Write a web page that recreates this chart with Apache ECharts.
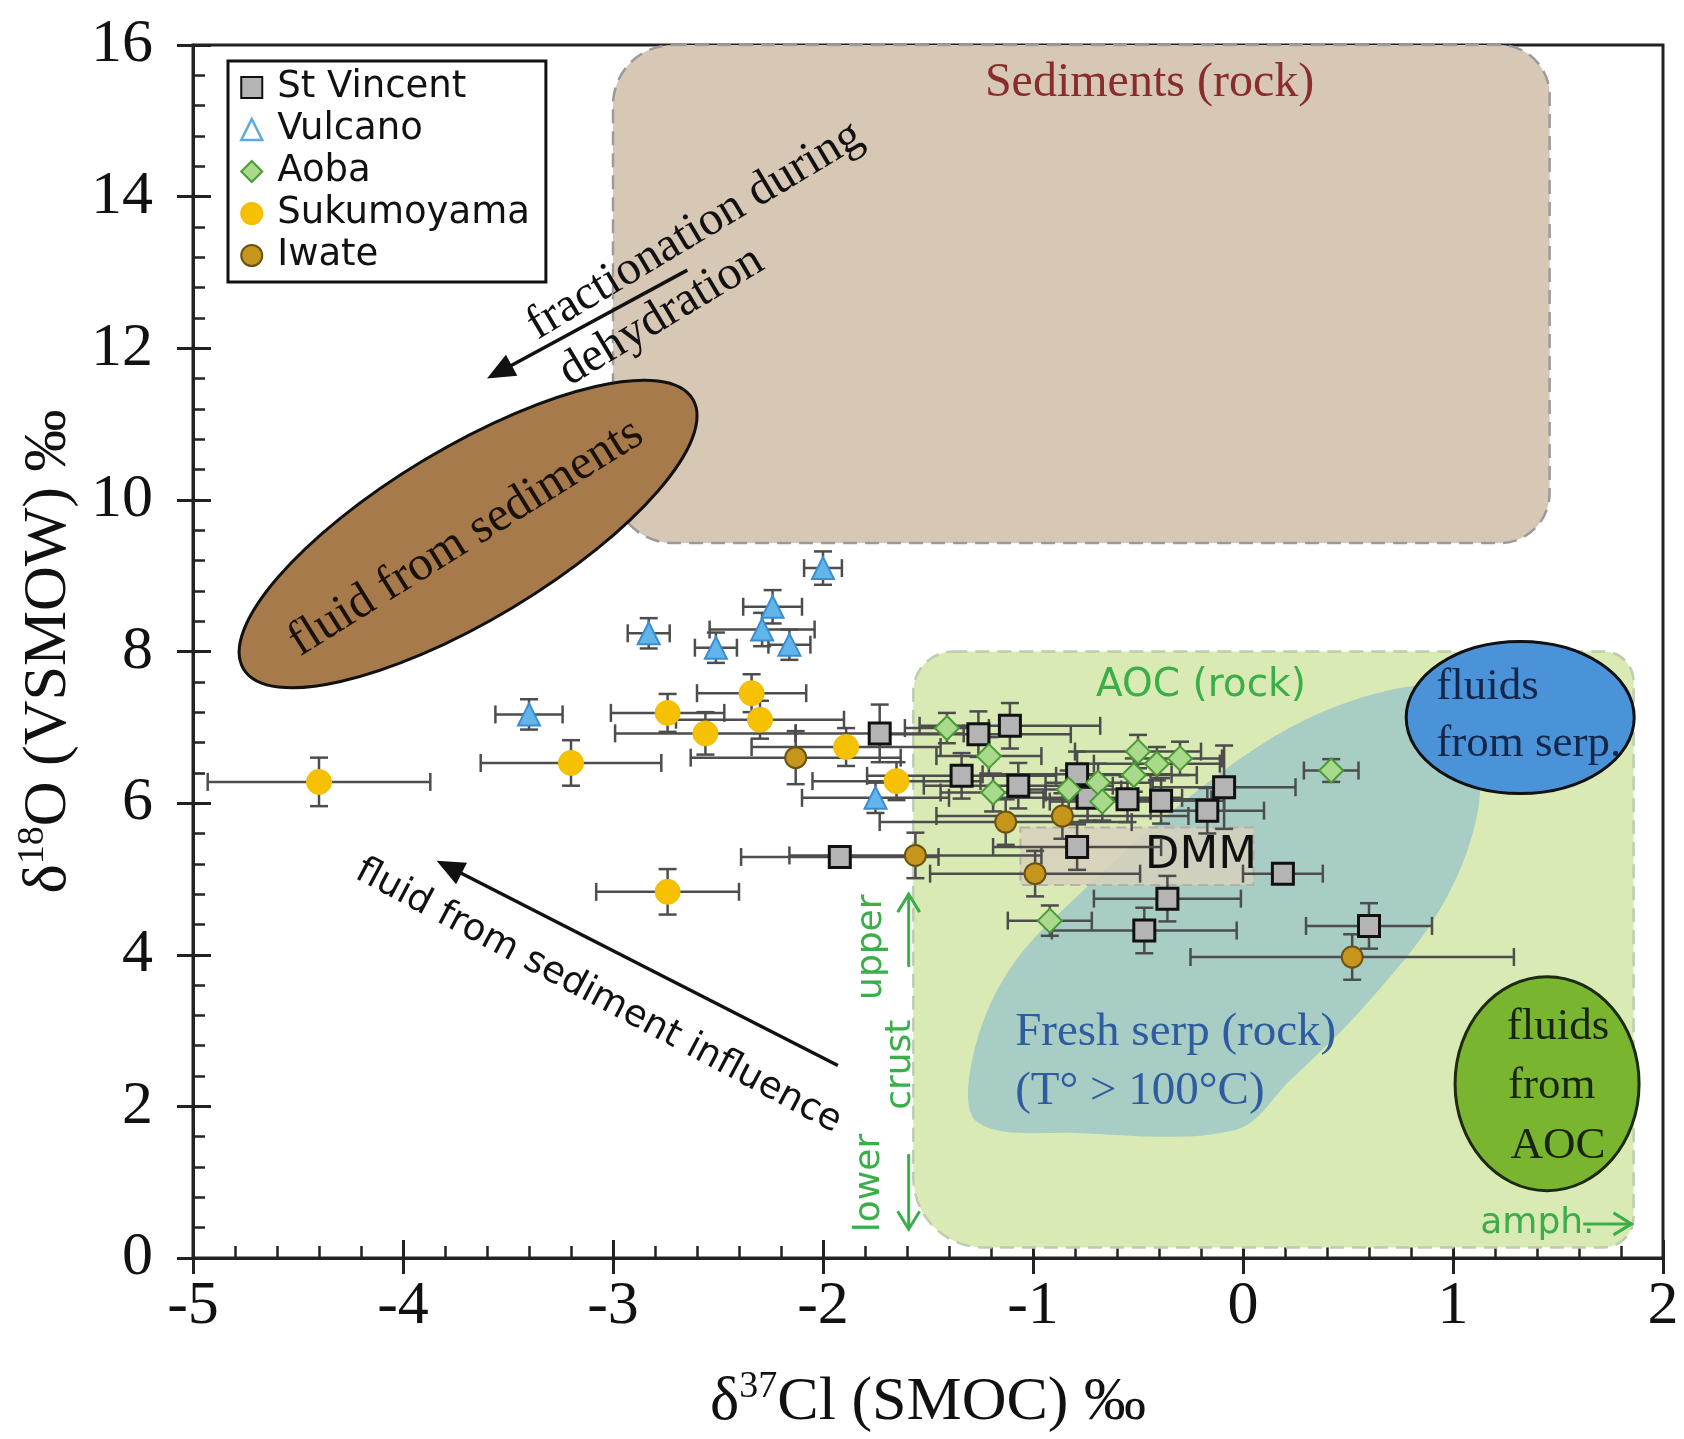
<!DOCTYPE html>
<html>
<head>
<meta charset="utf-8">
<script src="https://cdn.jsdelivr.net/npm/echarts@6/dist/echarts.min.js"></script>
<style>
html,body{margin:0;padding:0;background:#fff;}
#chart{width:1684px;height:1439px;}
</style>
</head>
<body>
<div id="chart"></div>
<script>
// ---------- data (x = δ37Cl, y = δ18O, xerr, yerr) ----------
const stVincent = [
  [-1.73, 6.92, 0.40, 0.38], [-1.26, 6.91, 0.44, 0.30], [-1.11, 7.02, 0.43, 0.30],
  [-1.34, 6.36, 0.45, 0.30], [-1.07, 6.23, 0.45, 0.30], [-0.79, 6.38, 0.45, 0.30],
  [-0.74, 6.07, 0.45, 0.30], [-0.55, 6.05, 0.40, 0.30], [-0.39, 6.03, 0.30, 0.30],
  [-0.17, 5.90, 0.27, 0.30], [-0.09, 6.21, 0.34, 0.55], [-1.92, 5.29, 0.47, 0.10],
  [-0.79, 5.42, 0.40, 0.30], [0.19, 5.07, 0.19, 0.10], [-0.36, 4.74, 0.35, 0.30],
  [-0.47, 4.32, 0.44, 0.30], [0.60, 4.38, 0.30, 0.30]
];
const vulcano = [
  [-2.00, 9.10, 0.09, 0.22], [-2.24, 8.59, 0.14, 0.22], [-2.29, 8.29, 0.25, 0.22],
  [-2.16, 8.09, 0.10, 0.20], [-2.83, 8.24, 0.10, 0.20], [-2.51, 8.05, 0.10, 0.20],
  [-3.40, 7.17, 0.16, 0.20], [-1.75, 6.07, 0.35, 0.20]
];
const aoba = [
  [-1.41, 6.99, 0.20, 0.20], [-1.21, 6.62, 0.25, 0.25], [-1.19, 6.14, 0.25, 0.25],
  [-0.83, 6.18, 0.25, 0.25], [-0.69, 6.27, 0.25, 0.25], [-0.67, 6.02, 0.25, 0.25],
  [-0.50, 6.68, 0.30, 0.22], [-0.41, 6.52, 0.30, 0.22], [-0.30, 6.59, 0.20, 0.22],
  [-0.52, 6.37, 0.30, 0.22], [0.42, 6.43, 0.13, 0.15], [-0.92, 4.45, 0.20, 0.20]
];
const sukumoyama = [
  [-4.40, 6.28, 0.53, 0.32], [-3.20, 6.53, 0.43, 0.30], [-2.74, 7.19, 0.27, 0.25],
  [-2.56, 6.92, 0.43, 0.28], [-2.34, 7.45, 0.26, 0.25], [-2.30, 7.10, 0.40, 0.25],
  [-1.89, 6.74, 0.45, 0.25], [-1.65, 6.29, 0.40, 0.25], [-2.74, 4.83, 0.34, 0.30]
];
const iwate = [
  [-2.13, 6.60, 0.50, 0.35], [-1.56, 5.31, 0.60, 0.30], [-1.13, 5.75, 0.60, 0.30],
  [-0.86, 5.83, 0.60, 0.30], [-0.99, 5.07, 0.50, 0.30], [0.52, 3.97, 0.77, 0.30]
];
const seriesNames = ['St Vincent', 'Vulcano', 'Aoba', 'Sukumoyama', 'Iwate'];
const xTicks = [-5, -4, -3, -2, -1, 0, 1, 2];
const yTicks = [0, 2, 4, 6, 8, 10, 12, 14, 16];

// ---------- field outlines (data coordinates) ----------
const sedimentsBox = [-3.0, 9.43, 1.46, 16.0];
const aocBox = [-1.57, 0.14, 1.86, 8.0];
const dmmBox = [-1.06, 4.92, 0.05, 5.68];
const serpOutline = [[-1.264,1.79],[-1.29,2.61],[-1.111,3.81],[-0.752,4.87],[-0.292,6.00],
  [0.22,6.99],[0.681,7.48],[0.962,7.48],[1.10,6.85],[1.116,5.86],[0.936,4.59],
  [0.578,3.32],[0.22,2.33],[-0.036,1.69],[-0.803,1.65]];
const sedFluidEllipse = [-3.69, 9.55];
const serpFluidEllipse = [1.32, 7.13];
const aocFluidEllipse = [1.448, 2.30];
const arrowsBlack = [[[-2.646, 13.03], [-3.60, 11.60]], [[-1.929, 2.54], [-3.84, 5.24]]];
const arrowsGreen = [[[-1.592, 3.84], [-1.592, 4.80]], [[-1.592, 1.37], [-1.592, 0.38]], [[1.62, 0.45], [1.85, 0.45]]];

const SERIF = '"Liberation Serif", "DejaVu Serif", serif';
const SANS = '"DejaVu Sans", "Open Sans", sans-serif';
const GREEN = '#3aae48';

const labels = [
  {t: 'Sediments (rock)', p: [-0.445, 15.5], f: SERIF, s: 48, c: '#8a2c2c', r: 0},
  {t: 'fractionation during', p: [-2.61, 13.55], f: SERIF, s: 48, c: '#111', r: 31},
  {t: 'dehydration', p: [-2.77, 12.42], f: SERIF, s: 48, c: '#111', r: 31},
  {t: 'fluid from sediments', p: [-3.70, 9.50], f: SERIF, s: 49, c: '#1a120a', r: 32},
  {t: 'fluid from sediment influence', p: [-3.07, 3.45], f: SANS, s: 37, c: '#111', r: -28},
  {t: 'AOC (rock)', p: [-0.20, 7.55], f: SANS, s: 39, c: GREEN, r: 0},
  {t: 'DMM', p: [-0.20, 5.30], f: SANS, s: 45, c: '#111', r: 0},
  {t: 'Fresh serp (rock)', p: [-1.085, 2.97], f: SERIF, s: 47, c: '#2f5c9e', r: 0, a: 'left'},
  {t: '(T° > 100°C)', p: [-1.085, 2.19], f: SERIF, s: 47, c: '#2f5c9e', r: 0, a: 'left'},
  {t: 'fluids', p: [0.92, 7.53], f: SERIF, s: 45, c: '#14264a', r: 0, a: 'left'},
  {t: 'from serp.', p: [0.92, 6.78], f: SERIF, s: 45, c: '#14264a', r: 0, a: 'left'},
  {t: 'fluids', p: [1.50, 3.05], f: SERIF, s: 45, c: '#18240c', r: 0},
  {t: 'from', p: [1.47, 2.27], f: SERIF, s: 45, c: '#18240c', r: 0},
  {t: 'AOC', p: [1.50, 1.48], f: SERIF, s: 45, c: '#18240c', r: 0},
  {t: 'upper', p: [-1.77, 4.10], f: SANS, s: 36, c: GREEN, r: 90},
  {t: 'crust', p: [-1.63, 2.55], f: SANS, s: 36, c: GREEN, r: 90},
  {t: 'lower', p: [-1.78, 0.99], f: SANS, s: 36, c: GREEN, r: 90},
  {t: 'amph.', p: [1.13, 0.45], f: SANS, s: 36, c: GREEN, r: 0, a: 'left'}
];

function arrowEls(a, b, color, lw, headLen, headW, open) {
  const dx = b[0] - a[0], dy = b[1] - a[1];
  const len = Math.sqrt(dx * dx + dy * dy);
  const ux = dx / len, uy = dy / len;
  const bx = b[0] - ux * headLen, by = b[1] - uy * headLen;
  const px = -uy, py = ux;
  const els = [];
  if (open) {
    els.push({type: 'line', shape: {x1: a[0], y1: a[1], x2: b[0], y2: b[1]}, style: {stroke: color, lineWidth: lw}});
    els.push({type: 'polyline', shape: {points: [[bx + px * headW, by + py * headW], [b[0], b[1]], [bx - px * headW, by - py * headW]]},
      style: {stroke: color, lineWidth: lw, fill: null}});
  } else {
    els.push({type: 'line', shape: {x1: a[0], y1: a[1], x2: bx + ux * 2, y2: by + uy * 2}, style: {stroke: color, lineWidth: lw}});
    els.push({type: 'polygon', shape: {points: [[b[0], b[1]], [bx + px * headW, by + py * headW], [bx - px * headW, by - py * headW]]},
      style: {fill: color}});
  }
  return els;
}

function regionsRender(params, api) {
  const c = (x, y) => api.coord([x, y]);
  const ch = [];
  // Sediments field
  let p1 = c(sedimentsBox[0], sedimentsBox[3]), p2 = c(sedimentsBox[2], sedimentsBox[1]);
  ch.push({type: 'rect', shape: {x: p1[0], y: p1[1], width: p2[0] - p1[0], height: p2[1] - p1[1], r: [60, 50, 50, 60]},
    style: {fill: '#d7c8b6', stroke: '#9a9a9a', lineWidth: 2.5, lineDash: [14, 8]}});
  // AOC field
  p1 = c(aocBox[0], aocBox[3]); p2 = c(aocBox[2], aocBox[1]);
  ch.push({type: 'rect', shape: {x: p1[0], y: p1[1], width: p2[0] - p1[0], height: p2[1] - p1[1], r: [40, 30, 30, 70]},
    style: {fill: '#d9eab4', stroke: '#c0cbb0', lineWidth: 2.5, lineDash: [14, 8]}});
  // Fresh serp field
  ch.push({type: 'polygon', shape: {points: serpOutline.map(q => c(q[0], q[1])), smooth: 0.35},
    style: {fill: '#a8cdc5'}});
  // DMM box
  p1 = c(dmmBox[0], dmmBox[3]); p2 = c(dmmBox[2], dmmBox[1]);
  ch.push({type: 'rect', shape: {x: p1[0], y: p1[1], width: p2[0] - p1[0], height: p2[1] - p1[1]},
    style: {fill: 'rgba(214,208,188,0.85)', stroke: '#b5b0a0', lineWidth: 2, lineDash: [10, 6]}});
  // fluid from sediments ellipse
  let e = c(sedFluidEllipse[0], sedFluidEllipse[1]);
  ch.push({type: 'ellipse', x: e[0], y: e[1], rotation: 31 * Math.PI / 180, shape: {cx: 0, cy: 0, rx: 262, ry: 86},
    style: {fill: '#a67a4a', stroke: '#111', lineWidth: 3}});
  // fluids from serp ellipse
  e = c(serpFluidEllipse[0], serpFluidEllipse[1]);
  ch.push({type: 'ellipse', shape: {cx: e[0], cy: e[1], rx: 114, ry: 76},
    style: {fill: '#4a93d8', stroke: '#111', lineWidth: 3}});
  // fluids from AOC ellipse
  e = c(aocFluidEllipse[0], aocFluidEllipse[1]);
  ch.push({type: 'ellipse', shape: {cx: e[0], cy: e[1], rx: 92, ry: 107},
    style: {fill: '#79b52e', stroke: '#1b2a10', lineWidth: 3}});
  // arrows
  arrowsBlack.forEach(ar => arrowEls(c(ar[0][0], ar[0][1]), c(ar[1][0], ar[1][1]), '#111', 3.5, 28, 12, false).forEach(x => ch.push(x)));
  arrowsGreen.forEach(ar => arrowEls(c(ar[0][0], ar[0][1]), c(ar[1][0], ar[1][1]), GREEN, 3, 18, 11, true).forEach(x => ch.push(x)));
  // texts
  labels.forEach(l => {
    const q = c(l.p[0], l.p[1]);
    ch.push({type: 'text', x: q[0], y: q[1], rotation: l.r * Math.PI / 180,
      style: {text: l.t, fontFamily: l.f, fontSize: l.s, fill: l.c, align: l.a || 'center', verticalAlign: 'middle'}});
  });
  return {type: 'group', children: ch};
}

function errRender(params, api) {
  const x = api.value(0), y = api.value(1), xe = api.value(2), ye = api.value(3);
  const L = api.coord([x - xe, y]), R = api.coord([x + xe, y]);
  const T = api.coord([x, y + ye]), B = api.coord([x, y - ye]);
  const cap = 9;
  const st = {stroke: '#4d4d4d', lineWidth: 2.5};
  return {type: 'group', children: [
    {type: 'line', shape: {x1: L[0], y1: L[1], x2: R[0], y2: R[1]}, style: st},
    {type: 'line', shape: {x1: L[0], y1: L[1] - cap, x2: L[0], y2: L[1] + cap}, style: st},
    {type: 'line', shape: {x1: R[0], y1: R[1] - cap, x2: R[0], y2: R[1] + cap}, style: st},
    {type: 'line', shape: {x1: T[0], y1: T[1], x2: B[0], y2: B[1]}, style: st},
    {type: 'line', shape: {x1: T[0] - cap, y1: T[1], x2: T[0] + cap, y2: T[1]}, style: st},
    {type: 'line', shape: {x1: B[0] - cap, y1: B[1], x2: B[0] + cap, y2: B[1]}, style: st}
  ]};
}

const styles = {
  'St Vincent': {symbol: 'rect', size: 21, item: {color: '#b4b4b4', borderColor: '#111', borderWidth: 3}},
  'Vulcano': {symbol: 'triangle', size: 22, item: {color: '#62b5ea', borderColor: '#3a8ed0', borderWidth: 2}},
  'Aoba': {symbol: 'diamond', size: 24, item: {color: '#a9d98b', borderColor: '#4a9a35', borderWidth: 2}},
  'Sukumoyama': {symbol: 'circle', size: 25, item: {color: '#f6c100', borderColor: '#f3bd00', borderWidth: 1}},
  'Iwate': {symbol: 'circle', size: 21, item: {color: '#c6951c', borderColor: '#6a5212', borderWidth: 2}}
};
const dataSets = [stVincent, vulcano, aoba, sukumoyama, iwate];

const series = [
  {type: 'custom', name: 'fields', renderItem: regionsRender, data: [[0, 0]], silent: true, z: 1, clip: false}
];
seriesNames.forEach((n, i) => {
  series.push({type: 'custom', name: n + ' err', renderItem: errRender, data: dataSets[i],
    encode: {x: 0, y: 1}, silent: true, z: 3});
});
seriesNames.forEach((n, i) => {
  const s = styles[n];
  series.push({type: 'scatter', name: n, data: dataSets[i].map(d => [d[0], d[1]]),
    symbol: s.symbol, symbolSize: s.size, itemStyle: Object.assign({opacity: 1}, s.item), z: 5});
});

const axisCommon = {min: -5, max: 2, interval: 1};
const option = {
  animation: false,
  backgroundColor: '#fff',
  grid: {left: 193, right: 21, top: 45, bottom: 177, show: true, borderColor: '#222', borderWidth: 3, backgroundColor: 'transparent'},
  legend: {
    orient: 'vertical', left: 228, top: 61,
    data: [
      {name: 'St Vincent'},
      {name: 'Vulcano', itemStyle: {color: '#ffffff', borderColor: '#5aa9e0', borderWidth: 2.5}},
      {name: 'Aoba'},
      {name: 'Sukumoyama'},
      {name: 'Iwate'}
    ],
    itemWidth: 21, itemHeight: 21, itemGap: 5,
    textStyle: {fontFamily: SANS, fontSize: 37, color: '#111', lineHeight: 36, padding: [0, 0, 0, 10]},
    borderColor: '#111', borderWidth: 3, padding: [8, 16, 8, 12],
    backgroundColor: '#fff', selectedMode: false
  },
  xAxis: [
    Object.assign({}, axisCommon, {
      type: 'value', position: 'bottom',
      name: '{n|δ}{s|37}{n|Cl (SMOC) ‰}', nameLocation: 'middle', nameGap: 110,
      nameTextStyle: {rich: {
        n: {fontFamily: SERIF, fontSize: 62, color: '#111', lineHeight: 70},
        s: {fontFamily: SERIF, fontSize: 38, color: '#111', lineHeight: 70, verticalAlign: 'top', padding: [0, 0, 26, 0]}
      }},
      axisLine: {show: true, onZero: false, lineStyle: {color: '#222', width: 3}},
      axisTick: {show: true, inside: false, length: 16, lineStyle: {color: '#222', width: 3}},
      axisLabel: {fontFamily: SERIF, fontSize: 62, color: '#111', margin: 18},
      splitLine: {show: false}
    }),
    Object.assign({}, axisCommon, {
      type: 'value', position: 'bottom',
      axisLine: {show: false, onZero: false},
      axisTick: {show: true, inside: true, length: 18, lineStyle: {color: '#222', width: 3}},
      minorTick: {show: true, splitNumber: 5, length: 12, lineStyle: {color: '#222', width: 2.5}},
      axisLabel: {show: false}, splitLine: {show: false}
    })
  ],
  yAxis: [
    {
      type: 'value', position: 'left', min: 0, max: 16, interval: 2,
      name: '{n|δ}{s|18}{n|O (VSMOW) ‰}', nameLocation: 'middle', nameGap: 90,
      nameTextStyle: {rich: {
        n: {fontFamily: SERIF, fontSize: 62, color: '#111', lineHeight: 70},
        s: {fontFamily: SERIF, fontSize: 38, color: '#111', lineHeight: 70, verticalAlign: 'top', padding: [0, 0, 26, 0]}
      }},
      axisLine: {show: true, onZero: false, lineStyle: {color: '#222', width: 3}},
      axisTick: {show: true, inside: false, length: 16, lineStyle: {color: '#222', width: 3}},
      axisLabel: {fontFamily: SERIF, fontSize: 62, color: '#111', margin: 40},
      splitLine: {show: false}
    },
    {
      type: 'value', position: 'left', min: 0, max: 16, interval: 2,
      axisLine: {show: false, onZero: false},
      axisTick: {show: true, inside: true, length: 18, lineStyle: {color: '#222', width: 3}},
      minorTick: {show: true, splitNumber: 5, length: 12, lineStyle: {color: '#222', width: 2.5}},
      axisLabel: {show: false}, splitLine: {show: false}
    }
  ],
  series: series
};

const chart = echarts.init(document.getElementById('chart'), null, {renderer: 'canvas'});
chart.setOption(option);
</script>
</body>
</html>
